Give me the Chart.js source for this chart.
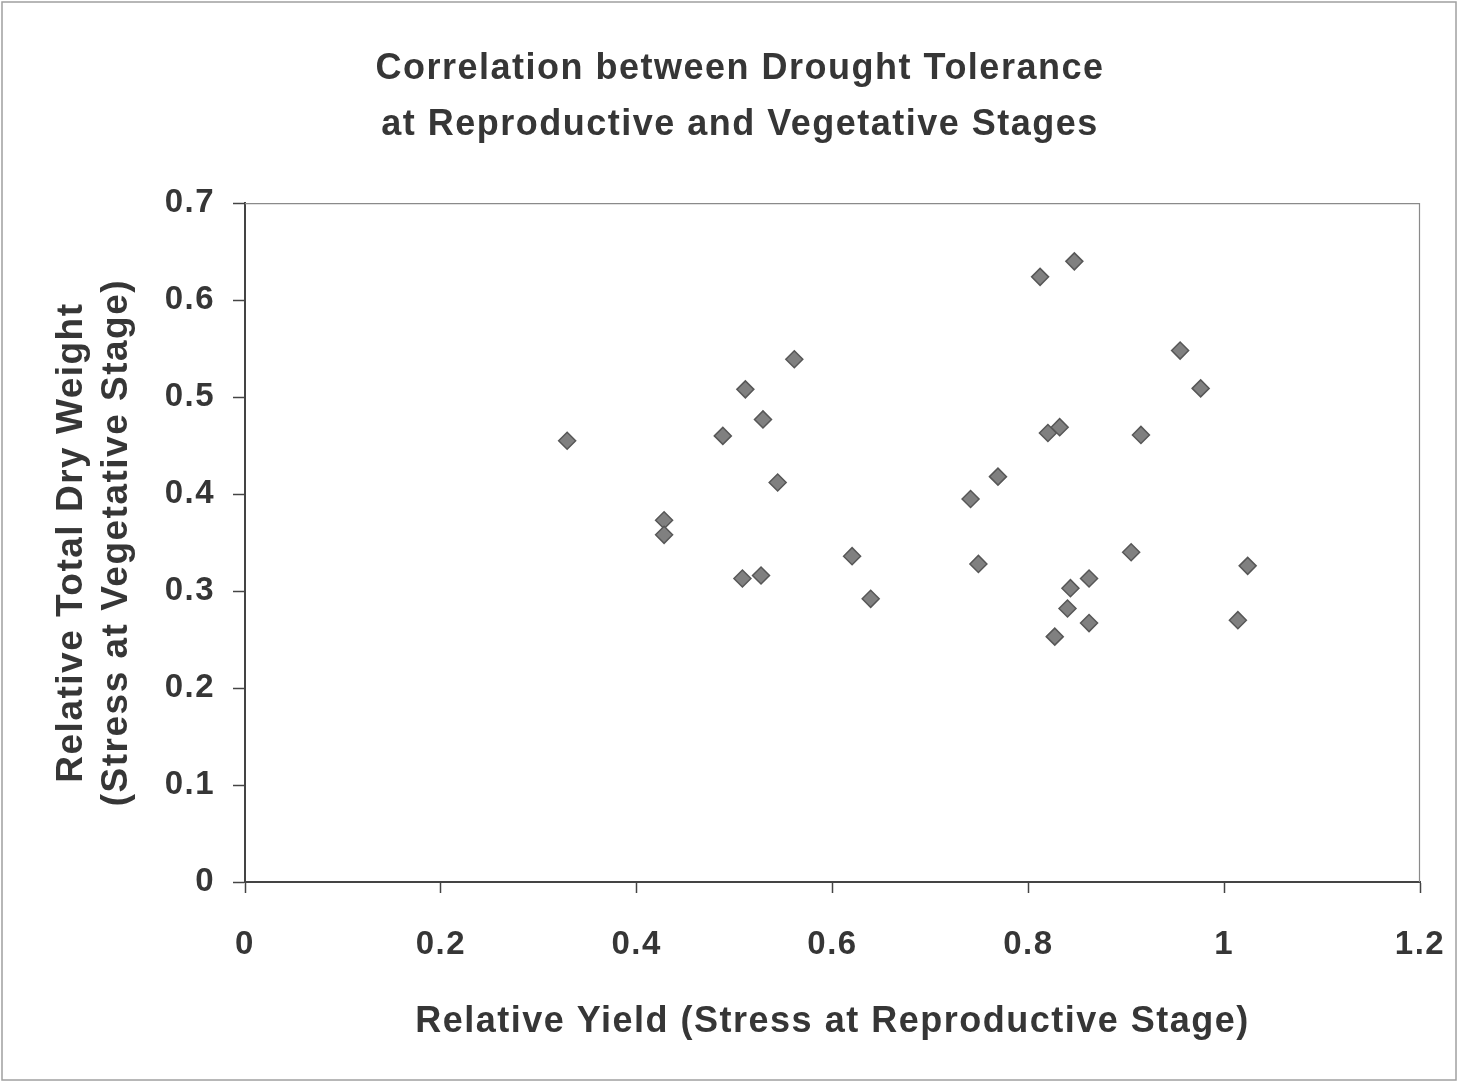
<!DOCTYPE html>
<html>
<head>
<meta charset="utf-8">
<script src="https://cdn.jsdelivr.net/npm/chart.js@4"></script>
<style>
  html,body{margin:0;padding:0;background:#fff;}
  #wrap{width:1458px;height:1083px;position:relative;}
</style>
</head>
<body>
<div id="wrap"><canvas id="c" width="1458" height="1083"></canvas></div>
<script>
const titleLines = ["Correlation between Drought Tolerance", "at Reproductive and Vegetative Stages"];
const xTitle = "Relative Yield (Stress at Reproductive Stage)";
const yTitleLines = ["Relative Total Dry Weight", "(Stress at Vegetative Stage)"];
const xTickLabels = ["0", "0.2", "0.4", "0.6", "0.8", "1", "1.2"];
const yTickLabels = ["0", "0.1", "0.2", "0.3", "0.4", "0.5", "0.6", "0.7"];
const relativeYield = [0.329, 0.428, 0.428, 0.488, 0.511, 0.529, 0.561, 0.544, 0.508, 0.527,
  0.620, 0.639, 0.741, 0.769, 0.749, 0.812, 0.847, 0.820, 0.832, 0.915,
  0.955, 0.976, 0.905, 0.843, 0.862, 0.840, 0.862, 0.827, 1.014, 1.024];
const relativeDryWeight = [0.455, 0.373, 0.358, 0.460, 0.508, 0.477, 0.539, 0.412, 0.313, 0.316,
  0.336, 0.292, 0.395, 0.418, 0.328, 0.624, 0.640, 0.463, 0.469, 0.461,
  0.548, 0.509, 0.340, 0.303, 0.313, 0.282, 0.267, 0.253, 0.270, 0.326];

const points = relativeYield.map((x, i) => ({x: x, y: relativeDryWeight[i]}));
const textColor = "#363636";
const fontFamily = "'Liberation Sans', Arial, sans-serif";

const framePlugin = {
  id: 'frame',
  beforeUpdate(chart) { chart.ctx.letterSpacing = '1.5px'; },
  beforeLayout(chart) { chart.ctx.letterSpacing = '1.5px'; },
  beforeDraw(chart) {
    const ctx = chart.ctx;
    ctx.letterSpacing = '1.5px';
    ctx.save();
    ctx.fillStyle = '#fff';
    ctx.fillRect(0, 0, chart.width, chart.height);
    ctx.strokeStyle = '#a0a0a0';
    ctx.lineWidth = 1.5;
    ctx.strokeRect(2, 2, chart.width - 4, chart.height - 5);
    ctx.restore();
  },
  afterDatasetsDraw(chart) {
    const a = chart.chartArea;
    const ctx = chart.ctx;
    ctx.save();
    ctx.strokeStyle = '#8a8a8a';
    ctx.lineWidth = 1.2;
    ctx.beginPath();
    ctx.moveTo(a.left, a.top + 0.5);
    ctx.lineTo(a.right - 0.5, a.top + 0.5);
    ctx.lineTo(a.right - 0.5, a.bottom);
    ctx.stroke();
    ctx.restore();
  }
};

new Chart(document.getElementById('c'), {
  type: 'scatter',
  data: {
    datasets: [{
      data: points,
      pointStyle: 'rectRot',
      pointRadius: 8.5,
      pointHoverRadius: 8.5,
      backgroundColor: '#808080',
      borderColor: '#575757',
      borderWidth: 1.5
    }]
  },
  plugins: [framePlugin],
  options: {
    responsive: false,
    animation: false,
    layout: {padding: {left: 45, right: 23, top: 0, bottom: 0}},
    plugins: {
      legend: {display: false},
      tooltip: {enabled: false},
      title: {
        display: true,
        text: titleLines,
        color: textColor,
        font: {family: fontFamily, size: 36, weight: 'bold', lineHeight: 1.53},
        padding: {top: 42, bottom: 51}
      }
    },
    scales: {
      x: {
        type: 'linear',
        min: 0, max: 1.2,
        afterFit(scale) {
          scale.height = 1083 - 882;
          scale.paddingLeft = 0;
          scale.paddingRight = 38;
        },
        afterBuildTicks(scale) {
          scale.ticks = xTickLabels.map(v => ({value: parseFloat(v)}));
        },
        ticks: {
          callback: (v, i) => xTickLabels[i],
          color: textColor,
          font: {family: fontFamily, size: 33, weight: 'bold'},
          padding: 32,
          maxRotation: 0
        },
        grid: {display: true, drawOnChartArea: false, drawTicks: true, tickLength: 11, tickColor: '#444', tickWidth: 1.5},
        border: {display: true, color: '#444', width: 2},
        title: {
          display: true,
          text: xTitle,
          color: textColor,
          font: {family: fontFamily, size: 36, weight: 'bold'},
          padding: {top: 0, bottom: 39}
        }
      },
      y: {
        type: 'linear',
        min: 0, max: 0.7,
        afterFit(scale) { scale.width = 200; },
        afterBuildTicks(scale) {
          scale.ticks = yTickLabels.map(v => ({value: parseFloat(v)}));
        },
        ticks: {
          callback: (v, i) => yTickLabels[i],
          color: textColor,
          font: {family: fontFamily, size: 33, weight: 'bold'},
          padding: 18
        },
        grid: {display: true, drawOnChartArea: false, drawTicks: true, tickLength: 12, tickColor: '#444', tickWidth: 1.5},
        border: {display: true, color: '#444', width: 2},
        title: {
          display: true,
          text: yTitleLines,
          color: textColor,
          font: {family: fontFamily, size: 37, weight: 'bold', lineHeight: 1.2},
          padding: {top: 5, bottom: 0}
        }
      }
    }
  }
});
</script>
</body>
</html>
